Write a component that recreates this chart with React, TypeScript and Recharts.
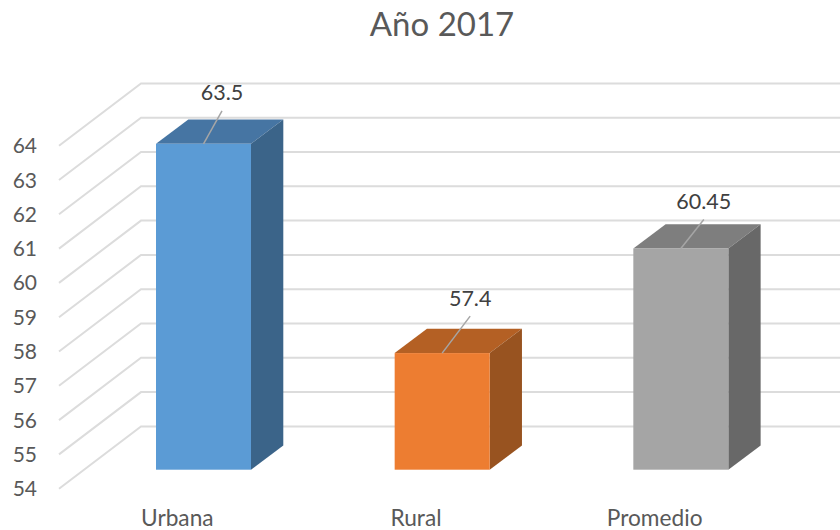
import React from "react";
import { BarChart, Bar, XAxis, YAxis, LabelList, CartesianGrid } from "recharts";

const categories = ["Urbana", "Rural", "Promedio"];
const values = [63.5, 57.4, 60.45];
const yTicks = [54, 55, 56, 57, 58, 59, 60, 61, 62, 63, 64];
const title = "Año 2017";

const frontColors = ["#5B9BD5", "#ED7D31", "#A5A5A5"];
const topColors = ["#4675A3", "#B46024", "#7E7E7E"];
const sideColors = ["#3B6489", "#985320", "#686868"];
const leaderEnds = [
  { dx: 18.5, dy: -33, ly: -52 },
  { dx: 28, dy: -37, ly: -55 },
  { dx: 23, dy: -29, ly: -47 },
];

const data = categories.map((name, i) => ({ name, value: values[i], idx: i }));

const FONT = "Lato, Carlito, sans-serif";
const DEPTH_X = 32.3;
const DEPTH_Y = -24.3;

const GridLine = (props: any) => {
  const y = props.y1;
  return (
    <polyline
      points={`59,${y + 19} 141,${y - 43.3} 840,${y - 43.3}`}
      fill="none"
      stroke="#DCDCDC"
      strokeWidth={2}
    />
  );
};

const YTick = (props: any) => (
  <text x={37} y={props.y + 19} dy="0.36em" textAnchor="end" fontSize={21} fontFamily={FONT} fill="#595959">
    {props.payload.value}
  </text>
);

const XTick = (props: any) => (
  <text x={props.x - 26} y={526} textAnchor="middle" fontSize={22.7} fontFamily={FONT} fill="#595959">
    {props.payload.value}
  </text>
);

const Bar3D = (props: any) => {
  const { x, y, width, height, index } = props;
  const b = y + height;
  const r = x + width;
  const l = leaderEnds[index];
  return (
    <g>
      <polygon points={`${x},${y} ${r},${y} ${r + DEPTH_X},${y + DEPTH_Y} ${x + DEPTH_X},${y + DEPTH_Y}`} fill={topColors[index]} />
      <polygon points={`${r},${y} ${r + DEPTH_X},${y + DEPTH_Y} ${r + DEPTH_X},${b + DEPTH_Y} ${r},${b}`} fill={sideColors[index]} />
      <rect x={x} y={y} width={width} height={height} fill={frontColors[index]} />
      <line x1={x + width / 2} y1={y} x2={x + width / 2 + l.dx} y2={y + l.dy} stroke="#A6A6A6" strokeWidth={1.5} />
    </g>
  );
};

const DataLabel = (props: any) => {
  const { x, y, width, value, index } = props;
  const l = leaderEnds[index];
  return (
    <text x={x + width / 2 + l.dx} y={y + l.ly} dy="0.36em" textAnchor="middle" fontSize={21.5} fontFamily={FONT} fill="#404040">
      {value}
    </text>
  );
};

export default function App() {
  return (
    <div style={{ position: "absolute", left: 0, top: 0, width: 840, height: 530 }}>
      <div
        style={{
          position: "absolute",
          left: 0,
          top: 0,
          width: 884,
          textAlign: "center",
          fontFamily: FONT,
          fontSize: 33,
          lineHeight: "46px",
          color: "#595959",
        }}
      >
        {title}
      </div>
      <BarChart
        width={840}
        height={530}
        data={data}
        margin={{ top: 126.7, right: 40, bottom: 0, left: 0 }}
        barSize={95}
      >
        <CartesianGrid vertical={false} horizontal={<GridLine />} />
        <YAxis
          type="number"
          domain={[54, 64]}
          ticks={yTicks}
          width={84}
          axisLine={false}
          tickLine={false}
          tick={<YTick />}
          interval={0}
        />
        <XAxis dataKey="name" height={60.3} axisLine={false} tickLine={false} tick={<XTick />} interval={0} />
        <Bar dataKey="value" isAnimationActive={false} shape={<Bar3D />}>
          <LabelList dataKey="value" content={<DataLabel />} />
        </Bar>
      </BarChart>
    </div>
  );
}
